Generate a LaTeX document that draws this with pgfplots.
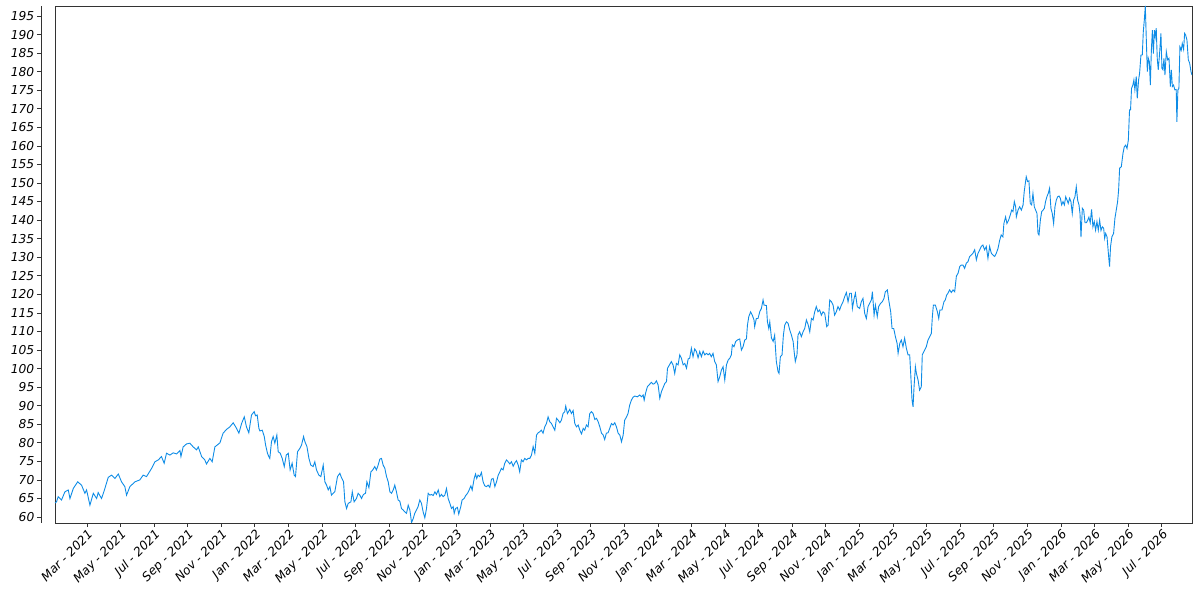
\documentclass[border=0pt]{standalone}
\usepackage{fontspec}
\setmainfont{DejaVu Sans}[ItalicFont={DejaVu Sans Oblique}]
\usepackage{pgfplots}
\pgfplotsset{compat=1.18}
\definecolor{linecol}{RGB}{14,140,230}
\definecolor{axcol}{RGB}{51,51,51}
\begin{document}
\begin{tikzpicture}
\begin{axis}[
  name=ax,
  scale only axis,
  width=1137bp, height=517bp,
  xmin=0.1, xmax=67.8,
  ymin=58.4, ymax=197.7,
  axis line style={draw=axcol, line width=0.9bp},
  tick align=outside,
  major tick length=4bp,
  xtick pos=bottom, ytick pos=left,
  xtick={2,4,...,66},
  xticklabels={Mar - 2021, May - 2021, Jul - 2021, Sep - 2021, Nov - 2021,
    Jan - 2022, Mar - 2022, May - 2022, Jul - 2022, Sep - 2022, Nov - 2022,
    Jan - 2023, Mar - 2023, May - 2023, Jul - 2023, Sep - 2023, Nov - 2023,
    Jan - 2024, Mar - 2024, May - 2024, Jul - 2024, Sep - 2024, Nov - 2024,
    Jan - 2025, Mar - 2025, May - 2025, Jul - 2025, Sep - 2025, Nov - 2025,
    Jan - 2026, Mar - 2026, May - 2026, Jul - 2026},
  ytick={60,65,...,195},
  /pgf/number format/assume math mode=true,
  xtick style={draw=axcol, line width=0.8bp},
  ytick style={draw=axcol, line width=0.8bp, xshift=-14bp},
  tick label style={font=\fontsize{12.3}{14.5}\selectfont\itshape, text=black},
  yticklabel style={xshift=-14bp, inner sep=2.5bp},
  xticklabel style={rotate=45, anchor=north east, inner sep=1bp},
  extra description/.code={
    \draw[axcol, line width=0.9bp] ([xshift=-14bp]axis description cs:0,0) -- ([xshift=-14bp]axis description cs:0,1);
  },
]
\addplot[linecol, line width=0.9bp] coordinates {
(0.10,63.8) (0.19,64.1) (0.29,65.5) (0.49,64.6) (0.69,66.8) (0.89,67.3) (0.99,65.0) (1.19,67.7)
(1.45,69.5) (1.68,68.6) (1.88,66.4) (1.98,67.3) (2.18,63.2) (2.38,66.4) (2.58,65.0) (2.67,66.6)
(2.87,65.0) (3.03,67.1) (3.27,70.7) (3.47,71.3) (3.67,70.4) (3.87,71.6) (4.06,69.5) (4.26,68.2)
(4.36,65.9) (4.56,68.2) (4.86,69.5) (5.15,70.0) (5.35,71.3) (5.55,70.9) (5.85,73.1) (6.05,74.9)
(6.25,75.4) (6.44,76.3) (6.60,74.5) (6.74,77.2) (6.94,76.7) (7.14,77.3) (7.34,77.0) (7.54,77.9)
(7.60,76.3) (7.73,78.9) (7.93,79.7) (8.13,79.9) (8.33,78.9) (8.53,78.1) (8.63,78.9) (8.83,76.3)
(9.02,75.4) (9.12,74.3) (9.32,75.8) (9.46,74.9) (9.62,78.9) (9.92,80.0) (10.11,82.6) (10.31,83.6)
(10.51,84.3) (10.71,85.4) (10.91,83.9) (11.05,82.6) (11.21,85.2) (11.37,87.0) (11.50,84.3) (11.64,82.7)
(11.80,87.5) (11.96,88.4)
(12.04,87.3) (12.14,87.5) (12.24,83.9) (12.30,83.2) (12.44,83.4) (12.56,81.7) (12.64,79.4) (12.75,77.2)
(12.83,76.3) (12.89,75.8) (12.99,80.3) (13.09,81.7) (13.19,79.9) (13.31,82.1) (13.39,77.6) (13.51,77.2)
(13.63,75.8) (13.75,73.6) (13.87,76.7) (13.99,77.2) (14.10,72.7) (14.22,74.5) (14.34,71.3) (14.42,70.9)
(14.54,77.6) (14.68,78.5) (14.78,79.4) (14.90,81.7) (14.98,80.3) (15.10,79.0) (15.22,75.8) (15.33,74.0)
(15.47,73.6) (15.57,74.9) (15.67,72.7) (15.81,71.3) (15.93,70.9) (16.07,74.0) (16.17,69.5) (16.27,68.6)
(16.37,67.3) (16.47,68.2) (16.56,65.9) (16.66,66.4) (16.76,66.8) (16.92,70.9) (17.06,71.8) (17.16,70.6)
(17.28,69.5) (17.36,64.1) (17.46,62.3) (17.56,63.7) (17.72,64.1) (17.80,66.8) (17.91,64.1) (18.05,65.0)
(18.15,66.4) (18.25,65.9) (18.35,65.0) (18.47,66.1) (18.59,66.4) (18.67,69.5) (18.79,67.9) (18.91,72.2)
(19.02,72.7) (19.14,73.6) (19.24,72.7) (19.34,74.0) (19.44,75.6) (19.54,75.8) (19.64,74.0) (19.74,73.1)
(19.84,70.9) (19.94,69.5) (20.04,66.8) (20.14,66.4) (20.24,67.3) (20.33,68.6) (20.43,66.8) (20.53,64.6)
(20.63,64.3) (20.73,62.3) (20.83,61.9) (20.93,61.4) (21.03,61.0) (21.13,63.2) (21.23,61.9) (21.33,58.5)
(21.43,59.6) (21.52,61.0) (21.62,61.9) (21.72,62.8) (21.82,64.6) (21.92,63.7) (22.02,61.4) (22.12,59.8)
(22.22,62.3) (22.32,66.4) (22.42,65.9) (22.52,66.1) (22.62,65.8) (22.72,66.8) (22.81,66.1) (22.92,67.3)
(23.01,65.5) (23.11,66.1) (23.21,65.5) (23.31,65.9)
(23.41,67.7) (23.51,65.0) (23.61,63.7) (23.71,62.3) (23.81,62.8) (23.87,61.0) (23.95,62.3) (24.06,62.6)
(24.14,60.8) (24.26,62.8) (24.34,64.6) (24.46,65.0) (24.54,65.7) (24.66,66.4) (24.76,67.3) (24.86,68.4)
(24.94,67.3) (25.06,70.4) (25.14,71.6) (25.21,70.4) (25.29,71.3) (25.39,70.9) (25.49,72.0) (25.59,69.5)
(25.69,68.4) (25.79,68.2) (25.89,68.6) (25.99,68.0) (26.09,70.2) (26.19,70.4) (26.29,68.2) (26.39,69.5)
(26.49,71.3) (26.59,72.2) (26.68,73.1) (26.78,72.7) (26.88,74.5) (26.98,75.4) (27.08,74.9) (27.18,74.3)
(27.28,74.9) (27.38,73.7) (27.48,74.6) (27.58,75.2) (27.68,74.0) (27.77,72.2) (27.87,75.4) (27.97,74.9)
(28.07,75.8) (28.17,75.4) (28.27,75.8) (28.37,75.8) (28.47,76.7) (28.57,79.0) (28.67,77.2) (28.77,82.1)
(28.87,82.7) (28.97,83.0) (29.06,83.4) (29.16,82.6) (29.26,84.3) (29.36,85.2) (29.46,87.0) (29.56,85.7)
(29.66,85.2) (29.76,84.3) (29.86,83.4) (29.96,86.6) (30.06,86.1) (30.16,85.4) (30.25,86.1) (30.35,87.9)
(30.45,88.4) (30.51,89.9) (30.61,87.9) (30.75,89.0) (30.85,87.9) (30.95,88.7) (31.05,85.2) (31.15,84.3)
(31.25,84.8) (31.35,83.4) (31.45,82.4) (31.55,83.9) (31.64,83.4) (31.74,84.8) (31.84,84.3) (31.94,87.9)
(32.04,88.4) (32.14,87.9) (32.24,86.3) (32.34,86.6) (32.44,85.7) (32.54,84.3) (32.64,82.6) (32.74,82.1)
(32.83,80.9) (32.93,82.6) (33.03,82.7) (33.13,83.9) (33.23,85.2) (33.33,84.8) (33.43,85.4) (33.53,84.3)
(33.63,82.6) (33.73,82.1) (33.83,80.3) (33.93,82.1) (34.02,86.1) (34.12,86.9) (34.22,87.9) (34.32,90.2)
(34.42,91.5) (34.52,92.3) (34.62,92.6)
(34.78,92.4) (34.92,92.9) (35.02,92.4) (35.12,92.9) (35.18,91.5) (35.26,93.3) (35.37,95.1) (35.51,95.8)
(35.61,96.3) (35.71,95.8) (35.81,96.0) (35.91,96.7) (36.01,95.6) (36.11,92.0) (36.21,93.8) (36.31,94.9)
(36.41,96.0) (36.51,96.5) (36.57,100.1) (36.70,101.1) (36.80,101.9) (36.90,101.0) (37.00,98.7) (37.10,101.4)
(37.20,101.0) (37.30,103.7) (37.40,102.8) (37.50,101.0) (37.60,101.4) (37.70,100.1) (37.80,102.6) (37.89,102.8)
(37.99,105.5) (38.09,103.2) (38.19,105.3) (38.29,104.6) (38.39,102.9) (38.49,104.6) (38.59,103.2) (38.69,104.7)
(38.79,103.7) (38.89,104.1) (38.99,103.7) (39.08,104.1) (39.18,103.2) (39.28,104.1) (39.38,101.9) (39.48,101.0)
(39.58,96.5) (39.68,97.8) (39.78,99.6) (39.88,100.5) (39.98,96.9) (40.08,101.0) (40.18,102.3) (40.28,102.8)
(40.37,103.7) (40.43,106.4) (40.53,105.9) (40.63,107.3) (40.73,107.7) (40.87,108.0) (40.97,105.0) (41.07,105.9)
(41.17,107.7) (41.27,108.0) (41.33,111.7) (41.41,114.0) (41.52,115.3) (41.62,114.4) (41.72,113.1) (41.76,111.3)
(41.86,113.5) (41.96,113.5) (42.06,115.3) (42.16,116.2) (42.26,118.5) (42.32,117.1) (42.46,117.0) (42.52,112.6)
(42.60,110.8) (42.66,112.6) (42.76,108.2) (42.86,107.3) (42.95,109.0) (43.05,101.9) (43.15,99.2) (43.21,98.7)
(43.29,103.2) (43.39,103.7) (43.47,109.0) (43.55,111.7) (43.65,112.6) (43.75,112.2) (43.85,110.4) (43.95,109.0)
(44.05,107.3) (44.11,104.6) (44.18,101.9) (44.28,103.7) (44.34,109.0) (44.44,109.9) (44.54,108.6) (44.64,109.9)
(44.74,110.8) (44.84,113.1) (44.94,111.9) (45.04,109.9) (45.14,113.5) (45.24,113.1) (45.33,115.2) (45.43,116.7)
(45.53,115.3) (45.63,115.8) (45.73,114.4) (45.83,115.3) (45.93,114.9)
(46.05,111.3) (46.13,111.7) (46.23,118.5) (46.33,118.0) (46.43,117.1) (46.52,114.4) (46.62,115.3) (46.72,116.7)
(46.82,115.8) (46.92,117.1) (47.02,118.0) (47.12,119.4) (47.22,120.5) (47.32,118.0) (47.42,120.3) (47.52,120.3)
(47.58,116.2) (47.68,118.9) (47.76,120.3) (47.87,116.7) (48.01,116.2) (48.11,118.0) (48.21,118.9) (48.31,114.9)
(48.41,113.5) (48.51,116.7) (48.61,117.6) (48.71,118.5) (48.77,120.7) (48.87,114.4) (48.95,117.1) (49.06,114.0)
(49.14,116.7) (49.26,117.6) (49.36,118.0) (49.46,118.9) (49.54,120.7) (49.66,121.2) (49.74,118.5) (49.86,115.3)
(49.94,110.8) (50.04,110.8) (50.14,108.6) (50.24,106.8) (50.30,104.1) (50.40,106.8) (50.49,107.7) (50.59,105.9)
(50.69,108.2) (50.79,105.5) (50.89,103.7) (50.99,103.7) (51.05,98.7) (51.13,91.5) (51.19,89.7) (51.25,95.1)
(51.33,100.5) (51.39,98.7) (51.49,96.9) (51.58,94.2) (51.68,95.1) (51.74,103.7) (51.88,105.0) (51.98,105.9)
(52.08,107.7) (52.18,108.6) (52.28,109.5) (52.34,114.0) (52.40,117.1) (52.52,117.1) (52.64,115.3) (52.72,113.5)
(52.79,115.8) (52.91,115.8) (53.03,118.0) (53.11,118.5) (53.19,119.8) (53.27,120.3) (53.37,121.2) (53.47,120.5)
(53.57,121.2) (53.67,120.7) (53.77,124.9) (53.87,125.7) (53.97,127.5) (54.06,127.9) (54.16,127.9) (54.26,127.0)
(54.36,128.4) (54.46,128.8) (54.56,130.2) (54.66,130.6) (54.76,131.1) (54.86,132.0) (54.96,129.3) (55.06,131.1)
(55.16,132.0) (55.25,132.9) (55.35,133.3) (55.45,132.0) (55.55,132.9) (55.65,129.7) (55.75,132.9) (55.85,131.1)
(55.95,130.6) (56.05,130.2) (56.15,131.1) (56.25,132.4) (56.35,134.6)
(56.44,136.0) (56.54,135.5) (56.60,139.1) (56.70,140.9) (56.78,139.1) (56.88,140.0) (56.98,141.4) (57.06,142.7)
(57.14,142.3) (57.22,145.0) (57.30,143.6) (57.34,140.9) (57.44,142.7) (57.54,143.6) (57.64,142.7) (57.74,144.1)
(57.81,147.7) (57.89,150.4) (57.93,151.7) (58.01,150.4) (58.09,150.6) (58.17,144.5) (58.25,144.1) (58.33,147.2)
(58.41,143.6) (58.49,142.7) (58.57,141.8) (58.63,136.4) (58.69,136.0) (58.77,140.0) (58.85,142.3) (58.93,142.7)
(59.01,143.2) (59.08,145.0) (59.16,146.3) (59.24,147.2) (59.32,148.6) (59.40,143.2) (59.48,141.8) (59.56,139.1)
(59.64,143.6) (59.72,145.4) (59.80,146.3) (59.88,146.5) (59.96,145.9) (60.04,144.1) (60.12,145.0) (60.20,144.1)
(60.28,146.3) (60.36,145.4) (60.43,144.5) (60.51,145.9) (60.59,145.0) (60.67,141.8) (60.75,145.4) (60.83,146.3)
(60.91,149.0) (60.99,145.4) (61.07,144.1) (61.13,141.8) (61.19,135.4) (61.27,143.2) (61.35,142.7) (61.43,139.3)
(61.51,139.3) (61.59,140.0) (61.66,140.8) (61.74,139.3) (61.82,142.9) (61.90,138.2) (61.98,139.6) (62.06,137.3)
(62.14,139.6) (62.22,137.3) (62.30,140.0) (62.38,137.2) (62.46,138.2) (62.54,137.8) (62.60,135.1) (62.66,136.4)
(62.74,135.5) (62.82,131.1) (62.89,127.5) (62.95,132.9) (63.03,135.5) (63.13,136.4) (63.21,140.5) (63.29,142.7)
(63.37,145.0) (63.43,148.1) (63.49,154.0) (63.59,154.4) (63.69,158.0) (63.77,159.8) (63.85,160.2) (63.93,159.3)
(64.01,161.6) (64.08,169.7) (64.14,169.7) (64.20,175.5) (64.28,176.4) (64.34,177.8) (64.40,175.1) (64.48,178.7)
(64.54,172.8) (64.62,177.8) (64.68,179.6) (64.76,184.5) (64.84,184.5) (64.90,190.8) (64.96,193.9) (65.02,197.7)
(65.08,188.5) (65.14,180.0) (65.20,183.6) (65.26,182.7) (65.32,176.4) (65.38,185.8) (65.44,191.2) (65.50,184.9)
(65.56,191.2) (65.61,189.4) (65.67,191.7) (65.73,183.6) (65.79,180.5) (65.87,184.9) (65.95,190.3) (66.01,180.9)
(66.07,180.5) (66.13,183.6) (66.19,179.1) (66.27,185.4) (66.35,183.2) (66.43,183.6) (66.51,176.0) (66.57,180.5)
(66.63,176.0) (66.70,176.4) (66.78,175.1) (66.86,175.2) (66.90,166.5) (66.96,175.1) (67.02,175.5) (67.08,186.7)
(67.16,185.8) (67.22,187.6) (67.30,186.0) (67.36,190.3) (67.42,189.9) (67.50,188.5) (67.58,183.2) (67.66,182.3)
(67.74,180.0) (67.80,179.1)
};
\end{axis}
\path (ax.south west) ++(-55bp,-77bp);
\path (ax.north east) ++(8bp,6bp);
\end{tikzpicture}
\end{document}
